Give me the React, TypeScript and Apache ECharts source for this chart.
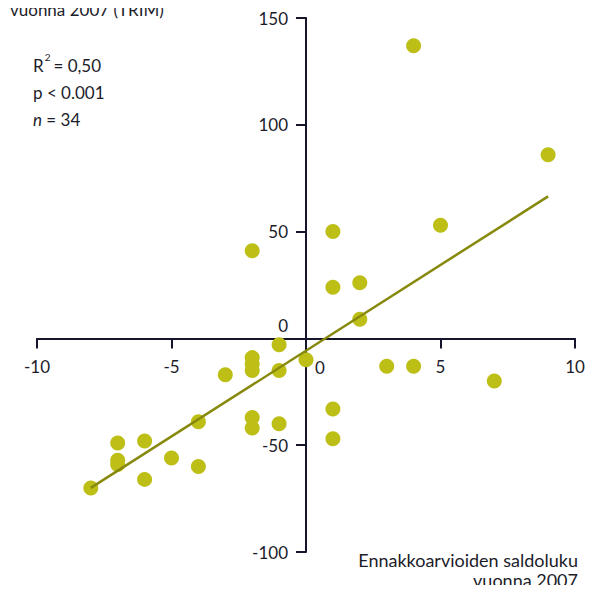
import React, { useEffect, useRef } from "react";
import * as echarts from "echarts";

const xTicks = [-10, -5, 0, 5, 10];
const yTicks = [-100, -50, 0, 50, 100, 150];

const forecastBalance = [
  4, 9, 1, 5, -2, 1, 2, 2, -1, 0, -2, -2, -2, -1, -3, 3, 4, 7, 1, 1, -2, -2, -1, -4, -7, -6, -7, -7, -5, -4, -6, -8,
];
const actualBalance = [
  137, 86, 50, 53, 41, 24, 26, 9, -3, -10, -9, -12, -15, -15, -17, -13, -13, -20, -33, -47, -37, -42, -40, -39, -49, -48, -57, -59, -56, -60, -66, -70,
];

const trendX = [-8, 9];
const trendY = [-70, 66.5];

const yTitle = "vuonna 2007 (TRIM)";
const xTitle = ["Ennakkoarvioiden saldoluku", "vuonna 2007"];

const FONT = "Lato, 'Open Sans', sans-serif";
const TEXT = "#1c1c2a";
const AXIS = "#15152b";

export default function App() {
  const ref = useRef<HTMLDivElement>(null);
  useEffect(() => {
    if (!ref.current) return;
    const chart = echarts.init(ref.current, null, { renderer: "svg" });
    const points = forecastBalance.map((x, i) => [x, actualBalance[i]]);
    const trend = trendX.map((x, i) => [x, trendY[i]]);
    const GRID = { left: 37, right: 26, top: 18, bottom: 41 };
    chart.setOption({
      animation: false,
      grid: { ...GRID, containLabel: false, outerBoundsMode: "none" },
      xAxis: {
        type: "value",
        position: "bottom",
        min: xTicks[0],
        max: xTicks[xTicks.length - 1],
        interval: 5,
        splitLine: { show: false },
        axisLine: { onZero: false, lineStyle: { color: AXIS, width: 2 } },
        axisTick: { show: true, length: 10, lineStyle: { color: AXIS, width: 2 } },
        axisLabel: {
          margin: 20,
          color: TEXT,
          fontSize: 17,
          fontFamily: FONT,
          formatter: (v: number) => (v === 0 ? "" : String(v)),
        },
      },
      yAxis: {
        type: "value",
        position: "left",
        min: yTicks[0],
        max: yTicks[yTicks.length - 1],
        interval: 50,
        splitLine: { show: false },
        axisLine: { onZero: false, lineStyle: { color: AXIS, width: 2 } },
        axisTick: { show: true, length: 10, lineStyle: { color: AXIS, width: 2 } },
        axisLabel: {
          margin: 18,
          color: TEXT,
          fontSize: 17,
          fontFamily: FONT,
          formatter: (v: number) => (v === 0 ? "" : String(v)),
        },
      },
      series: [
        {
          type: "scatter",
          data: points,
          symbol: "circle",
          symbolSize: 15,
          itemStyle: { color: "#bdbf17", opacity: 1 },
          z: 2,
        },
        {
          type: "line",
          data: trend,
          symbol: "none",
          lineStyle: { color: "#87890c", width: 2.5 },
          z: 3,
        },
      ],
    });
    // place the axes on the zero lines, using the library's own scales
    const origin = chart.convertToPixel({ gridIndex: 0 }, [0, 0]) as number[];
    const H = chart.getHeight();
    const xOffset = -(H - GRID.bottom - origin[1]);
    const yOffset = -(origin[0] - GRID.left);
    chart.setOption({
      xAxis: { offset: xOffset },
      yAxis: { offset: yOffset },
      graphic: [
        {
          type: "text",
          x: 10,
          y: 18,
          style: { text: yTitle, fill: TEXT, font: `17px ${FONT}`, verticalAlign: "bottom" },
        },
        {
          type: "text",
          left: 33,
          top: 52,
          style: {
            text: `{a|R}{s|2}{a|= 0,50}\n{a|p < 0.001}\n{i|n}{a| = 34}`,
            fill: TEXT,
            lineHeight: 27,
            rich: {
              a: { fontSize: 17, fontFamily: FONT, fill: TEXT, lineHeight: 27 },
              s: { fontSize: 10, fontFamily: FONT, fill: TEXT, verticalAlign: "top", lineHeight: 27, padding: [0, 3, 10, 1] },
              i: { fontSize: 17, fontFamily: FONT, fontStyle: "italic", fill: TEXT, lineHeight: 27 },
            },
          },
        },
        {
          type: "text",
          x: 578,
          y: 560,
          style: { text: xTitle[0], fill: TEXT, font: `18px ${FONT}`, align: "right", verticalAlign: "middle" },
        },
        {
          type: "text",
          x: 578,
          y: 580,
          style: { text: xTitle[1], fill: TEXT, font: `18px ${FONT}`, align: "right", verticalAlign: "middle" },
        },
        {
          type: "text",
          x: origin[0] + 14,
          y: origin[1] + 29,
          style: { text: "0", fill: TEXT, font: `17px ${FONT}`, align: "center", verticalAlign: "middle" },
        },
        {
          type: "text",
          x: origin[0] - 18,
          y: origin[1] - 13,
          style: { text: "0", fill: TEXT, font: `17px ${FONT}`, align: "right", verticalAlign: "middle" },
        },
      ],
    });
    return () => chart.dispose();
  }, []);
  return <div ref={ref} style={{ width: 601, height: 593, margin: -8 }} />;
}
